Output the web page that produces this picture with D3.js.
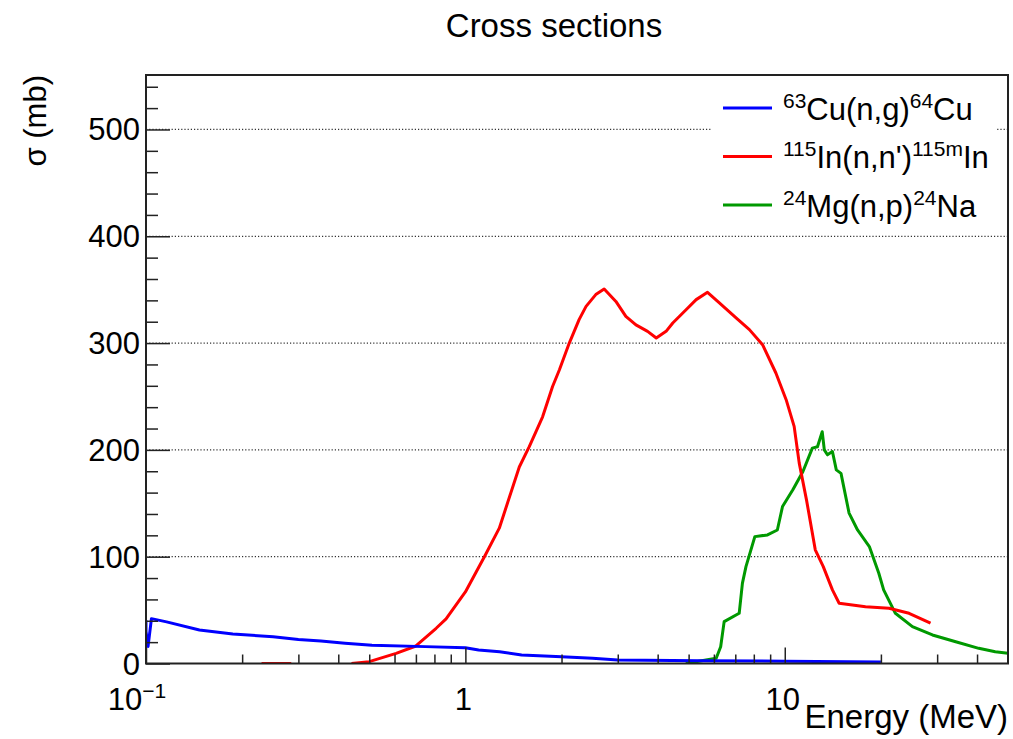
<!DOCTYPE html>
<html>
<head>
<meta charset="utf-8">
<script src="https://cdn.jsdelivr.net/npm/d3@7"></script>
<style>
html,body{margin:0;padding:0;background:#fff;}
svg text{font-family:"Liberation Sans",Arial,Helvetica,sans-serif;fill:#000;}
</style>
</head>
<body>
<svg id="chart" width="1013" height="739"></svg>
<script>
// ---------- data ----------
const cuEnergy = [0.1, 0.1, 0.1015, 0.104, 0.116, 0.147, 0.187, 0.25, 0.30, 0.353, 0.42, 0.51, 0.75, 1.0, 1.1, 1.28, 1.5, 2.0, 2.5, 3.0, 5.4, 10, 20];
const cuSigma  = [40.5, 30, 16, 42, 39, 31.4, 27.6, 25, 22.5, 21, 19, 17, 15.8, 14.8, 12.7, 11, 8, 6.4, 4.9, 3.3, 2.6, 2.2, 1.5];

const inEnergy = [0.23, 0.285, null, 0.44, 0.5, 0.607, 0.70, 0.81, 0.87, 1.0, 1.147, 1.277, 1.475, 1.585, 1.745, 1.875, 1.97, 2.115, 2.27, 2.387, 2.56, 2.72, 2.96, 3.18, 3.42, 3.72, 3.96, 4.25, 4.46, 4.9, 5.28, 5.73, 6.24, 7.04, 7.75, 8.52, 9.38, 10.1, 10.7, 11.1, 11.7, 12.46, 13.2, 14.1, 14.8, 17.9, 21.2, 24.5, 28.6];
const inSigma  = [0, 0, null, 0, 1.7, 9.5, 16.4, 33, 41.7, 67, 100, 126.7, 184, 203, 231, 259.4, 275, 300, 322, 334.4, 345.4, 350.7, 339, 325, 317, 311, 304.8, 311, 318.8, 331, 340.7, 347.5, 337.6, 323.5, 312.6, 298.5, 272, 247, 222, 187.6, 153, 106.4, 90.7, 68.9, 56.4, 53.2, 51.7, 47, 37.7];

const mgEnergy = [4.9, 6.1, 6.3, 6.46, 7.2, 7.37, 7.56, 8.06, 8.83, 9.48, 9.84, 10.6, 11.4, 12.2, 12.66, 13.1, 13.3, 13.6, 14.1, 14.5, 15.0, 15.9, 16.9, 18.4, 19.7, 20.4, 22.2, 25.1, 29, 34.3, 40.5, 45.6, 50];
const mgSigma  = [0, 4.9, 15.7, 39.2, 47, 75.2, 90.7, 118.8, 120.4, 125, 147, 162.6, 179.8, 201.7, 203, 217, 200, 195.4, 198.5, 181.3, 178, 140.8, 125, 109.5, 84.5, 68.9, 47, 34.5, 26.7, 20.4, 14.2, 11, 9.5];

const seriesNames = [
  {sup1:"63", main1:"Cu(n,g)", sup2:"64", main2:"Cu"},
  {sup1:"115", main1:"In(n,n')", sup2:"115m", main2:"In"},
  {sup1:"24", main1:"Mg(n,p)", sup2:"24", main2:"Na"}
];
const seriesColors = ["#0000ff", "#ff0000", "#009900"];

const xMajorTicks = [0.1, 1, 10];
const xMajorLabels = [{base:"10", exp:"\u22121"}, {base:"1", exp:""}, {base:"10", exp:""}];
const xMinorTicks = [0.2,0.3,0.4,0.5,0.6,0.7,0.8,0.9,2,3,4,5,6,7,8,9,20,30,40];
const yMajorTicks = [0,100,200,300,400,500];
const yMinorTicks = d3.range(0, 560, 20).filter(v => v % 100 !== 0);

const titleText = "Cross sections";
const xTitle = "Energy (MeV)";
const yTitle = "\u03c3 (mb)";

// ---------- layout ----------
const L = 146, R = 1008, T = 75, B = 663.5;
const svg = d3.select("#chart");
const x = d3.scaleLog().domain([0.1, 50]).range([L, R]);
const y = d3.scaleLinear().domain([0, 551]).range([B, T]);

// grid
svg.append("g").selectAll("line").data(yMajorTicks.filter(v => v > 0)).join("line")
  .attr("x1", L).attr("x2", R).attr("y1", d => y(d)).attr("y2", d => y(d))
  .attr("stroke", "#333").attr("stroke-width", 1.2).attr("stroke-dasharray", "1.2,2");

// legend background (covers grid)
svg.append("rect").attr("x", 712).attr("y", 76).attr("width", 284).attr("height", 152).attr("fill", "#fff");

// curves
svg.append("clipPath").attr("id", "clip").append("rect")
  .attr("x", L).attr("y", T).attr("width", R - L).attr("height", B - T);
const line = d3.line().defined(d => d[0] != null && d[1] != null).x(d => x(d[0])).y(d => y(d[1]));
const seriesData = [
  d3.zip(cuEnergy, cuSigma),
  d3.zip(inEnergy, inSigma),
  d3.zip(mgEnergy, mgSigma)
];
const curves = svg.append("g").attr("clip-path", "url(#clip)");
[2, 1, 0].forEach(i => {
  curves.append("path").datum(seriesData[i]).attr("d", line)
    .attr("fill", "none").attr("stroke", seriesColors[i]).attr("stroke-width", 3)
    .attr("stroke-linejoin", "round");
});

// axes
const axisColor = "#222";
const gx = svg.append("g").attr("transform", `translate(0,${B})`);
gx.call(d3.axisBottom(x).tickValues(xMajorTicks).tickSize(-16).tickFormat(() => "").tickSizeOuter(0));
const gxm = svg.append("g").attr("transform", `translate(0,${B})`);
gxm.call(d3.axisBottom(x).tickValues(xMinorTicks).tickSize(-9).tickFormat(() => "").tickSizeOuter(0));
const gy = svg.append("g").attr("transform", `translate(${L},0)`);
gy.call(d3.axisLeft(y).tickValues(yMajorTicks).tickSize(-24).tickFormat(() => "").tickSizeOuter(0));
const gym = svg.append("g").attr("transform", `translate(${L},0)`);
gym.call(d3.axisLeft(y).tickValues(yMinorTicks).tickSize(-12).tickFormat(() => "").tickSizeOuter(0));
[gx, gxm, gy, gym].forEach(g => {
  g.selectAll("path.domain").remove();
  g.selectAll("line").attr("stroke", axisColor).attr("stroke-width", 1.5);
});

// frame
svg.append("rect").attr("x", L).attr("y", T).attr("width", R - L).attr("height", B - T)
  .attr("fill", "none").attr("stroke", axisColor).attr("stroke-width", 2);

// y labels
svg.append("g").selectAll("text").data(yMajorTicks).join("text")
  .attr("x", L - 6).attr("y", d => y(d) + 11)
  .attr("text-anchor", "end").attr("font-size", 31).text(d => d);

// x labels
const xl = svg.append("g").selectAll("text").data(xMajorTicks).join("text")
  .attr("x", (d, i) => x(d) + (xMajorLabels[i].exp ? -9 : -2)).attr("y", 710)
  .attr("text-anchor", "middle").attr("font-size", 31);
xl.append("tspan").text((d, i) => xMajorLabels[i].base);
xl.append("tspan").attr("font-size", 21).attr("dy", -12).text((d, i) => xMajorLabels[i].exp);

// titles
svg.append("text").attr("x", 554).attr("y", 36.5).attr("text-anchor", "middle")
  .attr("font-size", 33).text(titleText);
svg.append("text").attr("x", R).attr("y", 728).attr("text-anchor", "end")
  .attr("font-size", 33).text(xTitle);
svg.append("text").attr("transform", `translate(46,${T}) rotate(-90)`)
  .attr("text-anchor", "end").attr("font-size", 31).text(yTitle);

// legend
const legY = [108, 156.5, 205];
const leg = svg.append("g");
seriesNames.forEach((s, i) => {
  leg.append("line").attr("x1", 723).attr("x2", 772).attr("y1", legY[i]).attr("y2", legY[i])
    .attr("stroke", seriesColors[i]).attr("stroke-width", 3);
  const t = leg.append("text").attr("x", 783).attr("y", legY[i] + 11.5).attr("font-size", 31);
  t.append("tspan").attr("font-size", 21).attr("dy", -12).text(s.sup1);
  t.append("tspan").attr("dy", 12).text(s.main1);
  t.append("tspan").attr("font-size", 21).attr("dy", -12).text(s.sup2);
  t.append("tspan").attr("dy", 12).text(s.main2);
});
</script>
</body>
</html>
